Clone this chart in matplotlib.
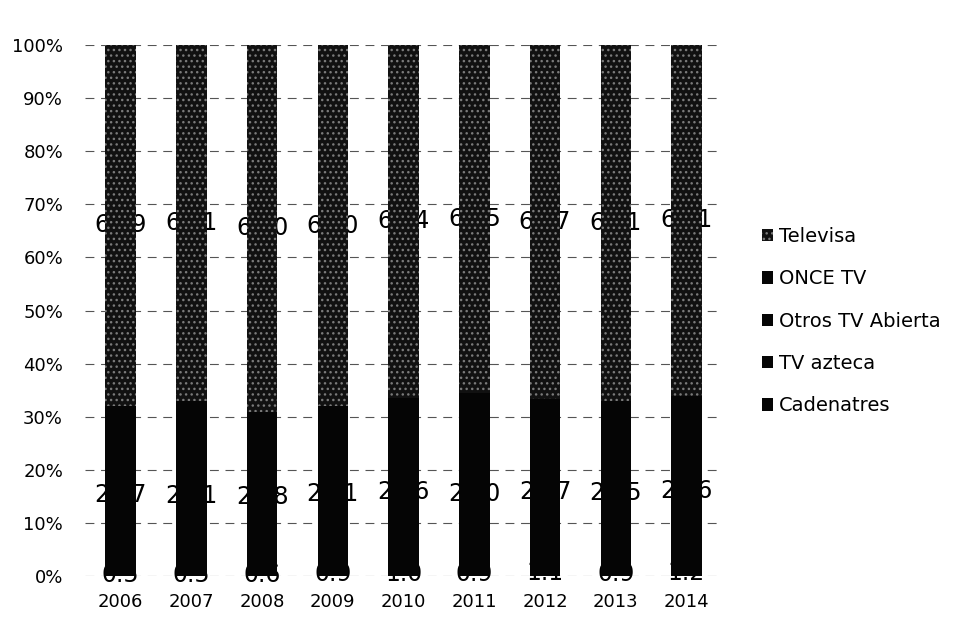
import numpy as np
import matplotlib
matplotlib.use("Agg")
import matplotlib.pyplot as plt

plt.rcParams['font.family'] = ['DejaVu Sans']
plt.rcParams['hatch.linewidth'] = 1.0

# data (share of audience, %)
years = ['2006', '2007', '2008', '2009', '2010', '2011', '2012', '2013', '2014']
cadenatres = [0.5, 0.5, 0.6, 0.9, 1.0, 0.9, 1.1, 0.9, 1.2]
tv_azteca = [29.7, 29.1, 28.8, 29.1, 29.6, 29.0, 29.7, 29.5, 29.6]
otros_tv = [1.0, 1.8, 0.8, 1.0, 1.6, 2.4, 1.3, 1.3, 1.6]
once_tv = [0.9, 1.5, 0.8, 1.0, 1.4, 2.2, 1.2, 1.2, 1.5]
televisa = [67.9, 67.1, 69.0, 68.0, 66.4, 65.5, 66.7, 67.1, 66.1]

series = [('Cadenatres', cadenatres), ('TV azteca', tv_azteca),
          ('Otros TV Abierta', otros_tv), ('ONCE TV', once_tv),
          ('Televisa', televisa)]
labelled = ['Cadenatres', 'TV azteca', 'Televisa']

fig = plt.figure(figsize=(9.69, 6.23), dpi=100)
ax = fig.add_axes([0.088, 0.075, 0.657, 0.853])

x = np.arange(len(years))
totals = np.sum([np.array(v) for _, v in series], axis=0)
bottom = np.zeros(len(years))
handles = {}
for name, vals in series:
    pct = np.array(vals) / totals * 100
    if name == 'Televisa':
        b = ax.bar(x, pct, 0.43, bottom=bottom, color='#111111', hatch='...',
                   edgecolor='#7a7a7a', linewidth=0, zorder=2)
    else:
        b = ax.bar(x, pct, 0.43, bottom=bottom, color='#050505',
                   linewidth=0, zorder=2)
    handles[name] = b
    if name in labelled:
        for i in range(len(years)):
            ax.text(x[i], bottom[i] + pct[i] / 2, '%.1f' % vals[i],
                    ha='center', va='center', fontsize=17, color='black',
                    zorder=1.5)
    bottom += pct

ax.set_xlim(-0.5, len(years) - 0.5)
ax.set_ylim(0, 100)
ax.set_yticks(np.arange(0, 101, 10))
ax.set_yticklabels(['%d%%' % v for v in range(0, 101, 10)], fontsize=13)
ax.set_xticks(x)
ax.set_xticklabels(years, fontsize=13)
ax.tick_params(axis='y', length=0, pad=16)
ax.tick_params(axis='x', length=0, pad=12)
ax.yaxis.grid(True, linestyle=(0, (8, 6)), color='#555555', linewidth=0.8,
              zorder=0)
for s in ax.spines.values():
    s.set_visible(False)

order = ['Televisa', 'ONCE TV', 'Otros TV Abierta', 'TV azteca', 'Cadenatres']
leg = ax.legend([handles[n] for n in order], order, loc='center left',
                bbox_to_anchor=(1.035, 0.48), frameon=False, fontsize=14,
                handlelength=0.6, handleheight=0.6, handletextpad=0.3,
                labelspacing=1.2)

fig.savefig('out.png', dpi=100)
